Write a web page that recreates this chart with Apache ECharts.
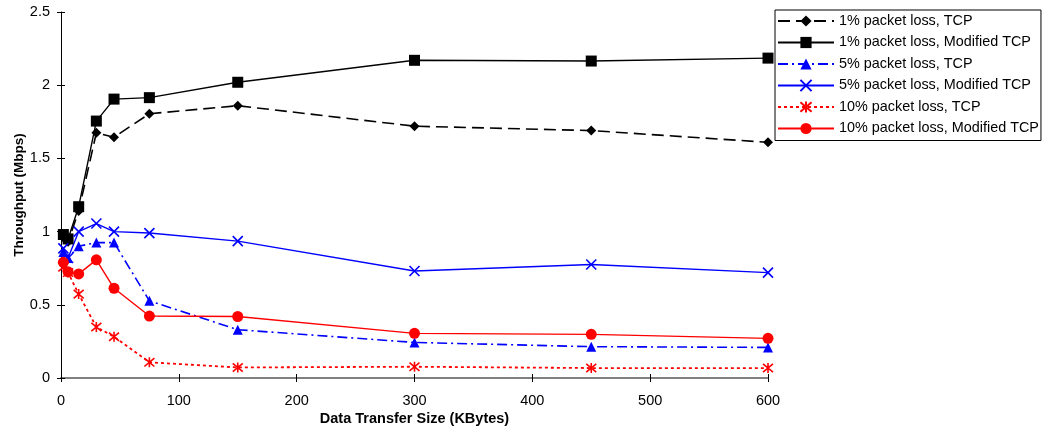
<!DOCTYPE html>
<html>
<head>
<meta charset="utf-8">
<script src="https://cdn.jsdelivr.net/npm/echarts@6/dist/echarts.min.js"></script>
<style>html,body{margin:0;padding:0;background:#fff}#c{width:1042px;height:427px}</style>
</head>
<body>
<div id="c"></div>
<script>
const sizes = [2, 6, 15, 30, 45, 75, 150, 300, 450, 600];
const tcp1 = [0.96, 0.93, 1.14, 1.675, 1.645, 1.805, 1.86, 1.72, 1.69, 1.61];
const mod1 = [0.98, 0.95, 1.17, 1.755, 1.905, 1.915, 2.02, 2.17, 2.165, 2.185];
const tcp5 = [0.86, 0.82, 0.90, 0.925, 0.925, 0.527, 0.33, 0.243, 0.214, 0.209];
const mod5 = [0.885, 0.82, 1.0, 1.055, 1.0, 0.99, 0.935, 0.731, 0.775, 0.72];
const tcp10 = [0.757, 0.72, 0.573, 0.348, 0.282, 0.107, 0.072, 0.077, 0.068, 0.068];
const mod10 = [0.79, 0.725, 0.711, 0.807, 0.613, 0.423, 0.42, 0.305, 0.298, 0.271];
const names = ['1% packet loss, TCP','1% packet loss, Modified TCP','5% packet loss, TCP','5% packet loss, Modified TCP','10% packet loss, TCP','10% packet loss, Modified TCP'];

const pair = a => sizes.map((x, i) => [x, a[i]]);
const XSYM = 'path://M0,0L10,10M10,0L0,10';
const STAR = 'path://M0,0L10,10M10,0L0,10M5,-1L5,11';
const FONT = 'Liberation Sans, Arial';

function mk(name, data, color, lineType, width, symbol, size, open) {
  return {
    name, type: 'line', data: pair(data), symbol, symbolSize: size,
    lineStyle: { color, width, type: lineType },
    itemStyle: open ? { color: 'rgba(0,0,0,0)', borderColor: color, borderWidth: 1.6 } : { color, borderWidth: 0 },
    emphasis: { disabled: true }, animation: false, z: 3
  };
}

const chart = echarts.init(document.getElementById('c'), null, { renderer: 'canvas' });
chart.setOption({
  animation: false,
  grid: { left: 61, right: 274, top: 12, bottom: 49, containLabel: false, outerBoundsMode: 'none' },
  legend: {
    orient: 'vertical', left: 775, top: 10,
    itemWidth: 56, itemHeight: 14, itemGap: 7.5,
    padding: [4, 2, 5, 2],
    borderColor: '#000', borderWidth: 1,
    textStyle: { fontFamily: FONT, fontSize: 14.4, lineHeight: 14, color: '#000' },
    data: names
  },
  xAxis: [{
    type: 'value', min: 0, max: 600, interval: 100,
    name: 'Data Transfer Size (KBytes)', nameLocation: 'middle', nameGap: 33, nameMoveOverlap: false,
    nameTextStyle: { fontFamily: FONT, fontSize: 14.5, fontWeight: 'bold', color: '#000' },
    axisLine: { lineStyle: { color: '#808080', width: 2 } },
    axisTick: { inside: true, length: 4, lineStyle: { color: '#000' } },
    axisLabel: { fontFamily: FONT, fontSize: 14.5, color: '#000', margin: 15 },
    splitLine: { show: false }
  }, {
    type: 'value', min: 0, max: 600, interval: 100, position: 'bottom',
    axisLine: { show: false },
    axisTick: { inside: false, length: 4, lineStyle: { color: '#000' } },
    axisLabel: { show: false }, splitLine: { show: false }
  }],
  yAxis: [{
    type: 'value', min: 0, max: 2.5, interval: 0.5,
    name: 'Throughput (Mbps)', nameLocation: 'middle', nameGap: 35, nameRotate: 90, nameMoveOverlap: false,
    nameTextStyle: { fontFamily: FONT, fontSize: 13.5, fontWeight: 'bold', color: '#000' },
    axisLine: { show: true, lineStyle: { color: '#000', width: 1 } },
    axisTick: { show: true, length: 4, lineStyle: { color: '#000' } },
    axisLabel: { fontFamily: FONT, fontSize: 14.5, color: '#000', margin: 11 },
    splitLine: { show: false }
  }, {
    type: 'value', min: 0, max: 2.5, interval: 0.5, position: 'left',
    axisLine: { show: false },
    axisTick: { show: true, inside: true, length: 4, lineStyle: { color: '#000' } },
    axisLabel: { show: false }, splitLine: { show: false }
  }],
  series: [
    mk(names[0], tcp1, '#000000', [12, 6], 1.6, 'diamond', 10),
    mk(names[1], mod1, '#000000', 'solid', 1.4, 'rect', 11),
    mk(names[2], tcp5, '#0000ff', [10, 4, 2, 4], 1.6, 'triangle', 10),
    mk(names[3], mod5, '#0000ff', 'solid', 1.4, XSYM, 10, true),
    mk(names[4], tcp10, '#ff0000', [3, 3], 1.8, STAR, 10, true),
    mk(names[5], mod10, '#ff0000', 'solid', 1.4, 'circle', 11)
  ]
});
</script>
</body>
</html>
